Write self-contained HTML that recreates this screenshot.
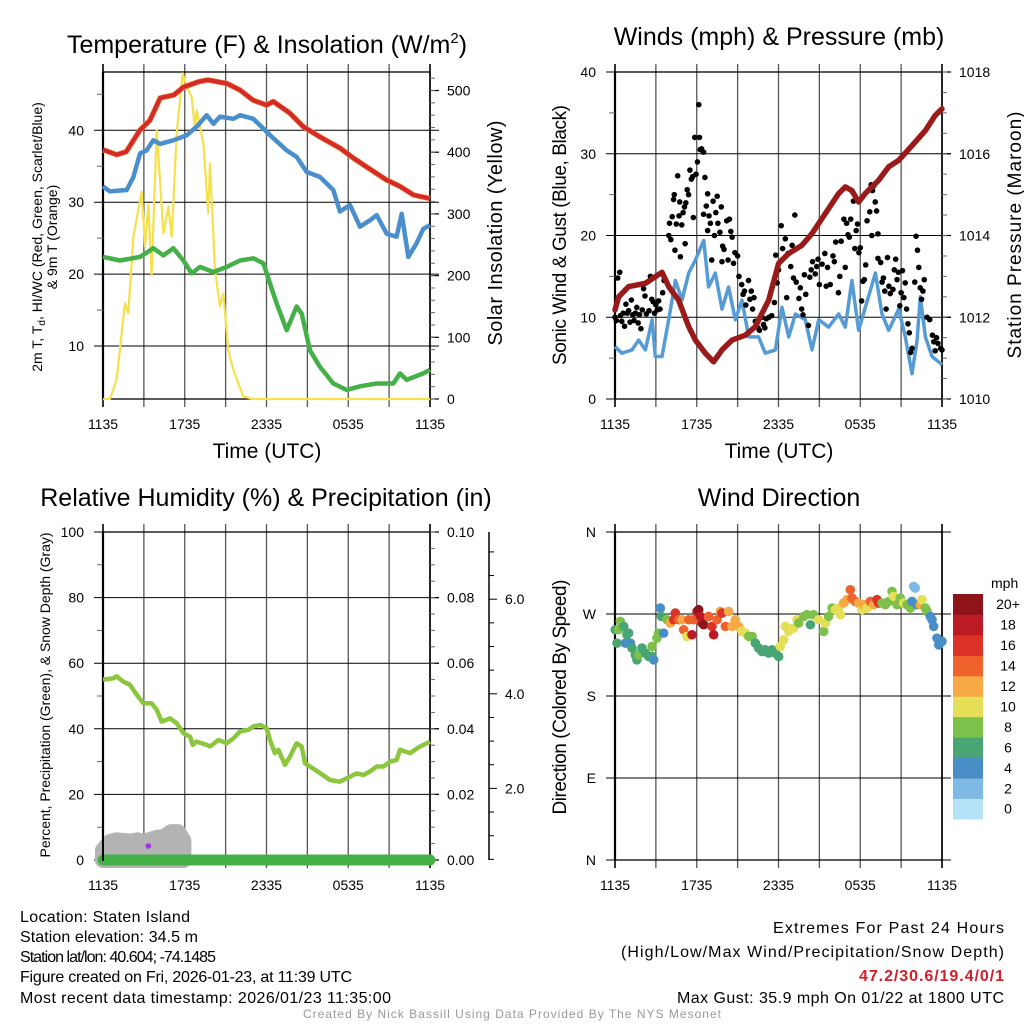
<!DOCTYPE html>
<html><head><meta charset="utf-8"><title>Staten Island Meteogram</title>
<style>
html,body{margin:0;padding:0;background:#fff;}
svg{display:block;font-family:"Liberation Sans",Arial,sans-serif;}
</style></head>
<body>
<svg id="fig" xmlns="http://www.w3.org/2000/svg" width="1024" height="1024" viewBox="0 0 1024 1024">
<rect x="0" y="0" width="1024" height="1024" fill="#fff"/>
<!-- titles -->
<text x="267" y="53" font-size="25" text-anchor="middle">Temperature (F) &amp; Insolation (W/m<tspan dy="-10" font-size="15">2</tspan><tspan dy="10">)</tspan></text>
<text x="779" y="45" font-size="25" text-anchor="middle">Winds (mph) &amp; Pressure (mb)</text>
<text x="266" y="506" font-size="25" text-anchor="middle">Relative Humidity (%) &amp; Precipitation (in)</text>
<text x="779" y="506" font-size="25" text-anchor="middle">Wind Direction</text>
<!-- axis titles -->
<text transform="translate(42,237) rotate(-90)" font-size="14" text-anchor="middle">2m T, T<tspan font-size="10" dy="3">d</tspan><tspan dy="-3">, HI/WC (Red, Green, Scarlet/Blue)</tspan></text>
<text transform="translate(57,237) rotate(-90)" font-size="14" text-anchor="middle">&amp; 9m T (Orange)</text>
<text transform="translate(502,233) rotate(-90)" font-size="20" text-anchor="middle" textLength="225">Solar Insolation (Yellow)</text>
<text transform="translate(566,235) rotate(-90)" font-size="19" text-anchor="middle" textLength="260">Sonic Wind &amp; Gust (Blue, Black)</text>
<text transform="translate(1021,235) rotate(-90)" font-size="19" text-anchor="middle" textLength="247">Station Pressure (Maroon)</text>
<text transform="translate(50,695) rotate(-90)" font-size="14" text-anchor="middle" textLength="325">Percent, Precipitation (Green), &amp; Snow Depth (Gray)</text>
<text transform="translate(566,697) rotate(-90)" font-size="19" text-anchor="middle" textLength="235">Direction (Colored By Speed)</text>
<text x="267" y="458" font-size="21" text-anchor="middle">Time (UTC)</text>
<text x="779" y="458" font-size="21" text-anchor="middle">Time (UTC)</text>
<!-- footer info -->
<g font-size="16">
<text x="20" y="922" textLength="170">Location: Staten Island</text>
<text x="20" y="942" textLength="178">Station elevation: 34.5 m</text>
<text x="20" y="962" textLength="196">Station lat/lon: 40.604; -74.1485</text>
<text x="20" y="982" textLength="332">Figure created on Fri, 2026-01-23, at 11:39 UTC</text>
<text x="20" y="1003" textLength="371">Most recent data timestamp: 2026/01/23 11:35:00</text>
</g>
<g font-size="16">
<text x="773" y="933" textLength="231">Extremes For Past 24 Hours</text>
<text x="621" y="957" textLength="383">(High/Low/Max Wind/Precipitation/Snow Depth)</text>
<text x="859" y="981" textLength="145" font-weight="bold" fill="#d0202a">47.2/30.6/19.4/0/1</text>
<text x="677" y="1003" textLength="327">Max Gust: 35.9 mph On 01/22 at 1800 UTC</text>
</g>
<text x="303" y="1018" font-size="12" fill="#999" textLength="418">Created By Nick Bassill Using Data Provided By The NYS Mesonet</text>
</svg>
<script>
// ---------- data ----------
const xTickLabels = ["1135","1735","2335","0535","1135"];
// Panel 1: temperature
const tempHours = [0,1,1.7,2.7,3.45,4.2,5.2,5.9,7.1,7.7,9.1,10.05,11,12,12.5,13.7,14.7,15.9,17.4,18.4,19.35,20.8,21.8,22.8,24];
const tempVals = [37.3,36.6,37,40,41.4,44.5,44.9,46,46.8,47,46.5,45.6,44.2,43.5,44,42.4,40.5,39.1,37.5,36.1,34.9,33.1,32.2,31,30.5];
const chillHours = [0,0.51,1.74,2.23,2.72,3.2,3.69,4.18,5.16,6.14,6.87,7.61,8.1,8.59,9.57,10.06,11.03,12.01,12.5,13.48,14.21,14.95,15.93,16.9,17.39,18.13,18.86,19.6,20.09,20.82,21.55,21.92,22.41,23.02,23.51,24];
const chillVals = [32.2,31.5,31.7,33.5,36.8,37.2,38.6,38.1,38.6,39.3,40.5,42.1,40.9,41.9,41.6,42.1,41.6,39.8,38.9,37.2,36.3,34.2,33.5,31.7,28.7,29.6,26.6,27.5,28.2,25.6,25.2,28.4,22.4,24.3,26.3,26.8];
const dewHours = [0,1.25,2.72,3.69,4.43,5.16,5.9,6.51,7.12,8.1,9.08,10.06,11.03,11.77,12.26,12.75,13.48,14.21,14.58,15.19,15.93,16.9,17.88,18.86,20.09,21.31,21.8,22.29,23.51,24];
const dewVals = [22.4,21.9,22.4,23.6,22.6,23.6,21.9,20.1,21,20.3,21,21.9,22.2,21.5,18.7,15.9,12.2,15.5,14.5,9.4,7.1,4.8,3.9,4.4,4.8,4.8,6.2,5.3,6.2,6.7];
const solarHours = [0,0.51,1.0,1.61,1.86,2.23,2.84,3.08,3.33,3.57,3.94,4.43,4.8,5.04,5.41,5.85,6.14,6.51,6.75,6.87,7.36,7.73,7.85,8.22,8.59,8.83,9.2,9.57,10.3,11.03,24];
const solarVals = [0,0,31,155,139,263,336,247,315,201,436,269,312,263,431,528,506,490,436,468,415,301,382,209,150,171,79,47,4,0,0];
const tempTicks = [10,20,30,40];
const solarTicks = [0,100,200,300,400,500];
// Panel 2: wind & pressure
const windHours = [0,0.51,1.25,1.74,2.23,2.72,2.96,3.45,3.94,4.43,4.92,5.41,5.9,6.51,6.87,7.36,7.85,8.34,8.83,9.32,9.81,10.54,11.03,11.77,12.26,12.75,13.24,13.97,14.46,14.95,15.68,16.42,16.9,17.39,17.88,18.37,19.11,19.6,20.09,20.82,21.31,21.8,22.17,22.41,22.78,23.27,24];
const windVals = [6.4,5.6,6,7.2,6,9.7,5.2,5.2,9.7,14.5,12.1,15.4,17,19.4,13.7,15.4,11,13.7,9.7,12.1,7.6,7.6,5.6,6,11.2,7.6,10.4,9.7,6,9.7,8.8,10.4,8.8,14.5,8.4,11.2,15.4,10.4,8.4,11,7.6,3.1,7.2,12.5,7.6,5.2,4.2];
const presHours = [0,0.27,1.0,2.23,3.45,3.94,4.67,5.41,5.9,6.63,7.24,7.85,8.59,9.57,10.3,11.28,12.01,12.75,13.72,14.46,15.44,16.42,16.9,17.39,17.88,18.37,19.35,20.09,20.82,21.8,22.78,23.51,24];
const presVals = [1012.18,1012.5,1012.75,1012.83,1013.1,1012.75,1012.42,1011.77,1011.44,1011.12,1010.91,1011.2,1011.44,1011.56,1011.77,1012.42,1013.32,1013.56,1013.76,1014.05,1014.54,1015.03,1015.19,1015.1,1014.82,1015.03,1015.35,1015.68,1015.84,1016.2,1016.57,1016.94,1017.1];
const gustHours = [0,0.1,0.2,0.35,0.4,0.5,0.6,0.7,0.8,0.9,1.0,1.1,1.2,1.3,1.4,1.5,1.6,1.7,1.8,1.9,2.0,2.1,2.2,2.3,2.5,2.6,2.7,2.8,2.9,3.0,3.1,3.2,3.3,3.5,3.6,3.95,4.0,4.1,4.2,4.3,4.35,4.4,4.5,4.6,4.7,4.75,4.8,4.9,5.0,5.1,5.15,5.2,5.3,5.4,5.5,5.6,5.7,5.75,5.85,5.95,6.05,6.15,6.2,6.25,6.35,6.5,6.5,6.6,6.7,6.8,6.8,6.9,7.0,7.1,7.2,7.3,7.4,7.5,7.55,7.7,7.8,7.85,7.9,8.0,8.2,8.3,8.4,8.5,8.6,8.7,8.8,9.0,9.1,9.3,9.4,9.5,9.6,9.8,9.9,10.0,10.1,10.2,10.3,10.5,10.6,10.8,10.9,11.0,11.1,11.3,11.5,11.7,11.8,11.9,12.0,12.2,12.3,12.5,12.6,12.7,12.9,13.0,13.1,13.2,13.3,13.5,13.6,13.7,13.8,13.9,14.0,14.2,14.3,14.4,14.5,14.7,14.8,14.9,15.0,15.2,15.4,15.5,15.6,15.8,16.0,16.1,16.2,16.4,16.5,16.6,16.8,16.9,17.0,17.1,17.2,17.3,17.4,17.5,17.6,17.7,17.8,17.9,18.0,18.1,18.2,18.3,18.4,18.5,18.7,18.8,18.85,18.9,19.0,19.1,19.2,19.3,19.3,19.5,19.6,19.7,19.8,19.9,20.0,20.1,20.2,20.4,20.5,20.6,20.7,20.8,20.9,21.0,21.1,21.2,21.3,21.4,21.5,21.6,21.7,21.8,22.0,22.1,22.2,22.3,22.4,22.5,22.6,22.7,22.9,23.1,23.3,23.4,23.5,23.6,23.7,23.9,24.0];
const gustVals = [10,9.6,14.8,15.5,10.2,9.5,10.5,8.9,11.6,10.5,10.8,9.4,12.1,10.3,9.6,10.5,11.2,9.3,10.3,8.6,10.9,13.5,12.6,10.4,10.8,15,12.2,11.9,10.5,11.5,10.9,12,11,13,14.5,20,21.5,19.5,22.3,24.4,25,18.2,21.4,27.3,22.4,24.1,17.4,21.3,22.8,23.5,19,24,25.6,25,28,26.9,27.2,22.2,32,27.5,29,36,32,30.5,30.6,30.2,22.6,27.1,23.6,25.1,20.6,22.4,21.5,17,24.2,20,22.8,24.8,21.5,20.4,23.5,16.8,18.7,18.3,21.8,17,22,20.5,19.8,16.6,17.9,17.5,15,14,12.8,13.2,11.5,14.5,12.2,13.2,11,12.4,9.5,8.7,8.4,10,9.1,8.7,9.8,10,10.2,11.8,17.6,14.2,15.8,21.2,18.4,19.6,12.4,17.8,16.2,18.8,14.8,22.5,14.3,12.3,13.6,11,10.3,15.2,12.8,9,14.9,15.8,16.8,15.3,16.2,17.1,14,16.5,17.8,13.8,16.1,14,17.5,16.8,19.2,13,15,19.3,22,16.1,21.5,20.1,19.8,22,25.4,24.2,18.4,20.6,21.4,17.9,18.5,12,14.4,14.6,16.4,21.8,22.9,26.2,20,25.5,26.1,24.1,23,20.2,17.2,16.7,14.3,14.8,13.2,11,17.3,13.8,12.9,13.4,15.8,17.1,14.6,15.5,11.4,13,15.7,12.4,14.2,11,9.2,8.1,5.7,6.2,14.3,19.9,18.2,16.1,13.6,12.2,13.2,14.6,10,9.7,7.8,7,5.9,7.5,6.8,6.2,6];
const windTicks = [0,10,20,30,40];
const presTicks = [1010,1012,1014,1016,1018];
// Panel 3: humidity, precip, snow
const rhHours = [0,0.76,1.0,1.49,1.98,2.47,2.96,3.57,3.94,4.31,4.92,5.41,5.9,6.39,6.58,6.87,7.61,7.85,8.47,9.08,9.57,10.06,10.67,11.03,11.52,12.01,12.26,12.62,12.87,13.36,13.72,14.21,14.58,14.82,15.19,15.93,16.66,17.39,18.13,18.62,19.11,19.6,20.09,20.58,21.07,21.55,21.8,22.53,23.27,23.76,24];
const rhVals = [55,55.4,56,54.4,53.4,50.4,47.8,47.8,45.8,42.2,43.2,41.7,38.7,37.6,35.1,36.1,35.1,34.6,36.6,35.6,37.1,39.2,39.7,40.7,41.2,40.2,36.6,32.6,33.6,29,31.5,35.6,34.6,29.5,28.5,26.5,24.4,23.9,25.4,26.4,25.9,27,28.5,28.5,30,30.5,33.6,32.6,34.6,35.6,36.1];
const precipHours = [0,24];
const precipVals = [0,0];
const snowHours = [0,0.5,1,1.5,2,2.5,3,3.5,4,4.5,5,5.5,5.9];
const snowVals = [3,5.5,6,5.8,5.6,6,5.5,6.2,6.8,7,8.5,8.5,6];
const rhTicks = [0,20,40,60,80,100];
const precipTicks = ["0.00","0.02","0.04","0.06","0.08","0.10"];
const snowTickVals = [2,4,6];
// Panel 4: wind direction
const dirHours = [0.02,0.15,0.27,0.39,0.64,0.76,0.88,1.0,1.13,1.25,1.49,1.61,1.74,1.98,2.23,2.47,2.72,2.84,2.72,3.08,3.2,3.33,3.4,3.57,3.82,4.06,4.31,4.43,4.67,4.92,5.04,5.28,5.41,5.65,5.77,6.02,6.14,6.26,6.39,6.51,6.87,7.12,7.24,7.49,7.73,7.85,8.1,8.34,8.59,8.83,9.08,9.32,9.57,9.81,10.06,10.3,10.54,10.79,11.03,11.28,11.52,11.77,12.01,12.13,12.38,12.5,12.75,13.11,13.36,13.48,13.85,14.09,14.34,14.58,14.95,15.32,15.44,15.68,15.93,16.17,16.42,16.54,16.78,17.03,17.27,17.39,17.64,17.88,18.13,18.25,18.5,18.74,18.98,19.23,19.35,19.6,19.84,20.09,20.33,20.45,20.7,20.94,21.19,21.43,21.68,21.8,21.92,22.04,22.17,22.41,22.53,22.78,22.9,23.14,23.27,23.39,23.63,23.76,24];
const dirVals = [252.7,238,252.7,261.9,256.4,238,247.2,249,238,232.6,225.2,219.7,225.2,232.6,227.1,223.4,223.4,219.7,234.4,243.5,249,276.5,267.4,249,263.7,260,263.7,271,263.7,263.7,252.7,245.4,263.7,247.2,263.7,272.8,274.7,267.4,260,258.2,267.4,256.4,247.2,263.7,272.8,271,256.4,272.8,256.4,263.7,256.4,250.9,249,245.4,245.4,238,232.6,228.9,230.7,227.1,230.7,227.1,223.4,234.4,241.7,256.4,250.9,254.5,263.7,260,267.4,269.2,258.2,269.2,263.7,250.9,260,267.4,276.5,274.7,276.5,269.2,282,285.7,296.6,287.5,283.8,282,274.7,280.2,276.5,283.8,280.2,285.7,282,282,280.2,283.8,294.8,289.3,280.2,287.5,282,280.2,276.5,283.8,300.3,298.5,280.2,280.2,285.7,276.5,272.8,267.4,263.7,256.4,243.5,236.2,239.9];
const dirSpeeds = [6,6,8,8,6,4,6,6,4,6,6,6,8,6,6,6,6,4,8,8,8,4,6,4,8,12,16,16,14,12,14,10,14,18,14,18,20,18,18,20,14,16,18,14,12,16,14,12,12,12,12,10,10,8,8,6,6,6,6,6,6,6,6,10,10,10,10,10,10,8,8,8,6,8,10,8,10,8,8,10,10,10,12,12,14,14,14,12,10,12,10,14,12,16,16,8,8,8,8,10,8,8,10,8,8,4,2,2,4,12,10,8,8,4,4,4,4,4,4];
const dirTickLabels = ["N","E","S","W","N"];
const speedBins = ["0","2","4","6","8","10","12","14","16","18","20+"];
const speedColors = ["#b5e2f7","#7fbae4","#4a8ec6","#4aa574","#7dc14a","#e5df58","#f6a944","#ef622b","#dc3328","#bd1b24","#8e1419"];

// ---------- helpers ----------
const NS = "http://www.w3.org/2000/svg";
const svg = document.getElementById("fig");
function mk(tag, attrs, parent){
  const e = document.createElementNS(NS, tag);
  for (const k in attrs) e.setAttribute(k, attrs[k]);
  (parent || svg).appendChild(e);
  return e;
}
const P1 = {x0:103, x1:430, y0:72, y1:399};
const P2 = {x0:615, x1:942, y0:72, y1:399};
const P3 = {x0:103, x1:430, y0:532, y1:860};
const P4 = {x0:615, x1:942, y0:532, y1:860};
function xAt(P, h){ return P.x0 + (P.x1 - P.x0) * h / 24; }
function lin(P, lo, hi){ return v => P.y1 - (v - lo) / (hi - lo) * (P.y1 - P.y0); }
const yTemp = lin(P1, 2.64, 48.1);
const ySolar = lin(P1, 0, 530);
const yWind = lin(P2, 0, 40);
const yPres = lin(P2, 1010, 1018);
const yRH = lin(P3, 0, 100);
const yDir = lin(P4, 0, 360);
const ySnowAx = v => 883 - v * 47.3;

function pathFrom(P, hours, vals, yf){
  let d = "";
  for (let i = 0; i < hours.length; i++) d += (i ? "L" : "M") + xAt(P, hours[i]).toFixed(1) + "," + yf(vals[i]).toFixed(1);
  return d;
}

function drawFrame(P, name, hTicks, yf, leftLabels){
  const g = mk("g", {});
  
  
  for (let h = 0; h <= 24; h += 3){
    const x = xAt(P, h);
    const ln = mk("line", {x1:x, y1:P.y0 - 8, x2:x, y2:P.y1 + 8, stroke: (h % 24 === 0) ? "#000" : "#555", "stroke-width": (h%24===0)?1.6:1.3}, g);
    
    
  }
  hTicks.forEach((v, i) => {
    const y = yf(v);
    const ln = mk("line", {x1:P.x0 - 9, y1:y, x2:P.x1 + 9, y2:y, stroke:"#000", "stroke-width":1}, g);
    
    
    const t = mk("text", {x:P.x0 - 19, y:y + 5, "font-size":14, "text-anchor":"end"}, g);
    t.textContent = leftLabels[i];
    
    
  });
  const fr = mk("rect", {x:P.x0, y:P.y0, width:P.x1 - P.x0, height:P.y1 - P.y0, fill:"none", stroke:"#000", "stroke-width":1.3}, g);
  
  
  const lf = mk("line", {x1:P.x0, y1:P.y0, x2:P.x0, y2:P.y1, stroke:"#000", "stroke-width":2.2}, g);
  
  
  xTickLabels.forEach((s, i) => {
    const t = mk("text", {x:xAt(P, i * 6), y:P.y1 + 30, "font-size":14, "text-anchor":"middle"}, g);
    t.textContent = s;
    
    
  });
}

function rightAxis(P, name, vals, labels, yf, minorStep, lo, hi){
  const g = mk("g", {});
  
  
  vals.forEach((v, i) => {
    const y = yf(v);
    const tk = mk("line", {x1:P.x1, y1:y, x2:P.x1 + 9, y2:y, stroke:"#000", "stroke-width":1.2}, g);
    
    
    const t = mk("text", {x:P.x1 + 17, y:y + 5, "font-size":14}, g);
    t.textContent = labels[i];
    
    
  });
  for (let v = lo; v <= hi + 1e-9; v += minorStep){
    const y = yf(v);
    const tk = mk("line", {x1:P.x1, y1:y, x2:P.x1 + 5, y2:y, stroke:"#666", "stroke-width":1}, g);
    
    
  }
}

// ---------- Panel 1 ----------
drawFrame(P1, "temperature", tempTicks, yTemp, tempTicks.map(String));
rightAxis(P1, "insolation", solarTicks, solarTicks.map(String), ySolar, 20, 0, 520);
[15,25,35,45].forEach(v => {
  const tk = mk("line", {x1:P1.x0 - 6, y1:yTemp(v), x2:P1.x0, y2:yTemp(v), stroke:"#666"});
  
  
});
let e;
e = mk("path", {d:pathFrom(P1, solarHours, solarVals, ySolar), fill:"none", stroke:"#f7e04a", "stroke-width":2.2, "stroke-linejoin":"round"});


e = mk("path", {d:pathFrom(P1, dewHours, dewVals, yTemp), fill:"none", stroke:"#46b048", "stroke-width":4.5, "stroke-linejoin":"round"});


e = mk("path", {d:pathFrom(P1, chillHours, chillVals, yTemp), fill:"none", stroke:"#4a8fcc", "stroke-width":4.5, "stroke-linejoin":"round"});


e = mk("path", {d:pathFrom(P1, tempHours, tempVals, yTemp), fill:"none", stroke:"#f08a3a", "stroke-width":5.5, "stroke-linejoin":"round"});


e = mk("path", {d:pathFrom(P1, tempHours, tempVals, yTemp), fill:"none", stroke:"#d42a2a", "stroke-width":4.2, "stroke-linejoin":"round"});



// ---------- Panel 2 ----------
drawFrame(P2, "wind", windTicks, yWind, windTicks.map(String));
rightAxis(P2, "pressure", presTicks, presTicks.map(String), yPres, 0.5, 1010, 1018);
[5,15,25,35].forEach(v => {
  const tk = mk("line", {x1:P2.x0 - 6, y1:yWind(v), x2:P2.x0, y2:yWind(v), stroke:"#666"});
  
  
});
e = mk("path", {d:pathFrom(P2, windHours, windVals, yWind), fill:"none", stroke:"#559bd6", "stroke-width":3.5, "stroke-linejoin":"round"});


const gustG = mk("g", {fill:"#000"});


gustHours.forEach((h, i) => {
  const c = mk("circle", {cx:xAt(P2, h), cy:yWind(gustVals[i]), r:2.8}, gustG);
  
  
});
e = mk("path", {d:pathFrom(P2, presHours, presVals, yPres), fill:"none", stroke:"#9a1a1a", "stroke-width":5.5, "stroke-linejoin":"round", "stroke-linecap":"round"});



// ---------- Panel 3 ----------
drawFrame(P3, "humidity", rhTicks, yRH, rhTicks.map(String));
rightAxis(P3, "precipitation", rhTicks, precipTicks, yRH, 5, 0, 100);
[10,30,50,70,90].forEach(v => {
  const tk = mk("line", {x1:P3.x0 - 6, y1:yRH(v), x2:P3.x0, y2:yRH(v), stroke:"#666"});
  
  
});
e = mk("line", {x1:489, y1:532, x2:489, y2:860, stroke:"#000", "stroke-width":1.5});


for (let v = 0.5; v <= 7; v += 0.5){
  const y = ySnowAx(v);
  if (y < 532 || y > 860) continue;
  const major = Math.abs(v - Math.round(v/2)*2) < 1e-9;
  const tk = mk("line", {x1:489, y1:y, x2:489 + (major ? 8 : 5), y2:y, stroke:"#000", "stroke-width":1});
  
  
}
snowTickVals.forEach(v => {
  const t = mk("text", {x:505, y:ySnowAx(v) + 5, "font-size":14});
  t.textContent = v.toFixed(1);
  
  
});
let sd = pathFrom(P3, snowHours, snowVals, yRH);
sd += "L" + xAt(P3, snowHours[snowHours.length-1]).toFixed(1) + "," + yRH(0) + "L" + xAt(P3, snowHours[0]).toFixed(1) + "," + yRH(0) + "Z";
e = mk("path", {d:sd, fill:"#b3b3b3", stroke:"#b3b3b3", "stroke-width":16, "stroke-linejoin":"round"});


e = mk("path", {d:pathFrom(P3, precipHours, precipVals, yRH), fill:"none", stroke:"#46b048", "stroke-width":11, "stroke-linecap":"round"});


e = mk("line", {x1:P3.x0, y1:P3.y0, x2:P3.x0, y2:P3.y1 + 1, stroke:"#000", "stroke-width":2});


e = mk("path", {d:pathFrom(P3, rhHours, rhVals, yRH), fill:"none", stroke:"#8cc63f", "stroke-width":4.5, "stroke-linejoin":"round"});


e = mk("circle", {cx:xAt(P3, 3.33), cy:846, r:2.8, fill:"#a232e8"});



// ---------- Panel 4 ----------
drawFrame(P4, "direction", [0,90,180,270,360], yDir, dirTickLabels);
const dirG = mk("g", {});


function speedColor(s){ let i = Math.min(10, Math.floor(s / 2)); return speedColors[i]; }
dirHours.forEach((h, i) => {
  const c = mk("circle", {cx:xAt(P4, h), cy:yDir(dirVals[i]), r:4.8, fill:speedColor(dirSpeeds[i])}, dirG);
  
  
});
const cb = mk("g", {});


const cbTop = 594, cbH = 20.45;
const mphT = mk("text", {x:991, y:588, "font-size":14}, cb);
mphT.textContent = "mph";


speedBins.forEach((lab, i) => {
  const k = speedBins.length - 1 - i;
  const r = mk("rect", {x:953, y:cbTop + k * cbH, width:30, height:cbH + 0.5, fill:speedColors[i]}, cb);
  
  
  const t = mk("text", {x:1008, y:cbTop + k * cbH + cbH/2 + 5, "font-size":14, "text-anchor":"middle"}, cb);
  t.textContent = lab;
  
  
});
</script>
</body></html>
